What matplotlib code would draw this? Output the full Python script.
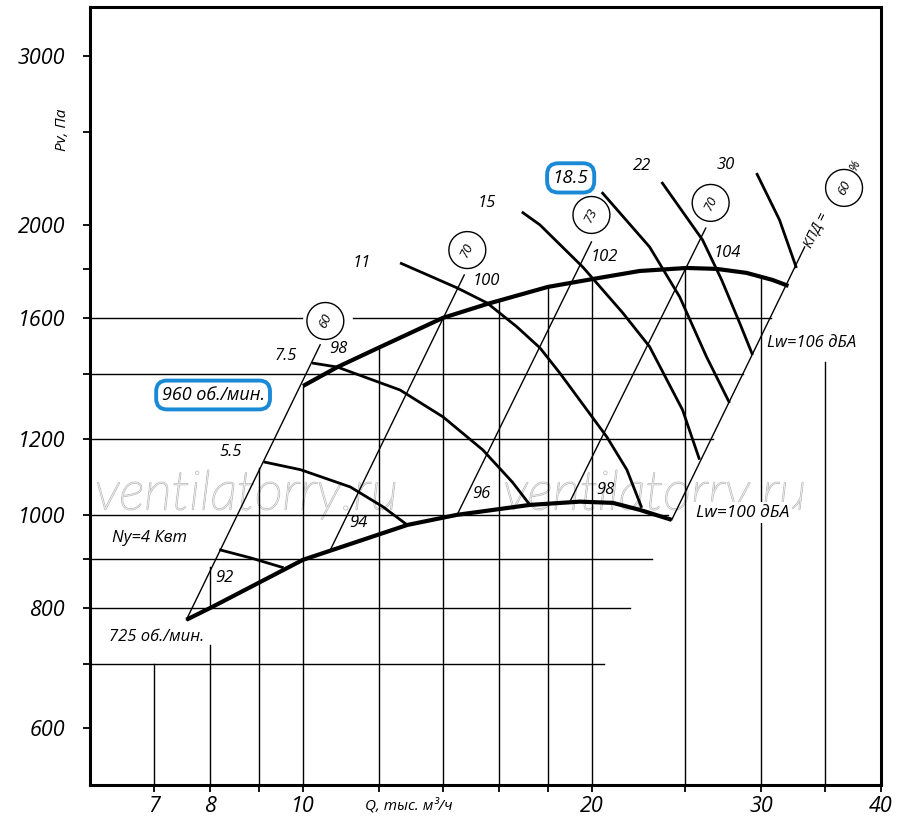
import matplotlib
matplotlib.use("Agg")
import matplotlib.pyplot as plt
import matplotlib.patheffects as pe
from matplotlib.ticker import NullLocator, FixedLocator, FixedFormatter

plt.rcParams['font.family'] = ['Open Sans', 'DejaVu Sans']
plt.rcParams['font.style'] = 'italic'

# ---- fan characteristics, Q in thousand m3/h, Pv in Pa ----
q_960 = [10.0, 10.86, 11.98, 13.99, 15.55, 17.99, 20.37, 22.42, 25.09, 26.96, 28.96, 30.83, 32.03]
p_960 = [1361, 1424, 1491, 1602, 1656, 1725, 1763, 1792, 1805, 1801, 1784, 1754, 1729]
q_725 = [7.56, 8.02, 10.0, 12.84, 14.47, 17.23, 19.42, 21.02, 22.42, 24.21]
p_725 = [778, 801, 898, 976, 1000, 1024, 1032, 1029, 1012, 988]

# ---- motor power curves ----
power_labels = ['Ny=4 Квт', '5.5', '7.5', '11', '15', '18.5', '22', '30']
power_q = [
    [8.18, 8.825, 9.546],
    [9.10, 9.94, 11.2, 12.12, 12.84],
    [10.22, 10.86, 12.62, 13.99, 15.39, 16.54, 17.23],
    [12.62, 14.47, 15.55, 16.70, 17.65, 18.51, 20.72, 21.74, 22.53],
    [16.90, 17.65, 19.56, 21.53, 22.96, 24.85, 25.88],
    [20.47, 22.96, 24.68, 26.32, 27.81],
    [23.63, 26.07, 27.29, 28.49, 29.39],
    [29.67, 31.35, 32.65],
]
power_p = [
    [920, 902, 881],
    [1135, 1114, 1069, 1019, 976],
    [1438, 1424, 1348, 1264, 1168, 1080, 1024],
    [1827, 1721, 1660, 1568, 1491, 1404, 1205, 1114, 1017],
    [2064, 2001, 1809, 1621, 1495, 1285, 1141],
    [2164, 1898, 1684, 1459, 1307],
    [2217, 1930, 1754, 1583, 1466],
    [2265, 2025, 1805],
]
power_label_q = [6.92, 8.41, 9.59, 11.52, 15.55, 19.0, 22.55, 27.54]
power_label_p = [946, 1163, 1463, 1827, 2109, 2239, 2303, 2309]

# ---- efficiency (system) lines ----
eff_labels = ['60', '70', '73', '70', '60']
eff_q = [[7.56, 10.42], [10.68, 14.72], [14.47, 19.97], [19.0, 26.27], [24.21, 33.3]]
eff_p = [[778, 1502], [920, 1775], [1000, 1921], [1036, 1986], [988, 1898]]
eff_circle_q = [10.55, 14.83, 19.97, 26.58, 36.6]
eff_circle_p = [1590, 1884, 2049, 2109, 2186]

# ---- noise levels ----
noise_top = ['98', '100', '102', '104']
noise_top_q = [10.88, 15.52, 20.6, 27.67]
noise_top_p = [1487, 1750, 1853, 1871]
noise_bot = ['92', '94', '96', '98']
noise_bot_q = [8.29, 11.41, 15.33, 20.65]
noise_bot_p = [860, 981, 1051, 1062]

# ---- grid segments ----
h_grid_p = [700, 800, 900, 1000, 1200, 1400, 1600, 1600]
h_grid_q0 = [6.0, 6.0, 6.0, 6.0, 6.0, 6.0, 6.0, 11.26]
h_grid_q1 = [20.6, 21.9, 23.1, 24.0, 26.7, 28.7, 9.98, 30.7]
v_grid_q = [7, 8, 8, 9, 10, 12, 14, 16, 18, 20, 25, 30, 35]
v_grid_p0 = [524, 524, 800, 524, 524, 524, 524, 524, 524, 524, 524, 524, 524]
v_grid_p1 = [700, 733, 883, 1119, 1361, 1494, 1602, 1664, 1721, 1763, 1805, 1763, 1442]

x_ticks = [7, 8, 9, 10, 12, 14, 16, 18, 20, 25, 30, 35, 40]
x_tick_labels = ['7', '8', '', '10', '', '', '', '', '20', '', '30', '', '40']
y_ticks = [600, 700, 800, 900, 1000, 1200, 1400, 1600, 1800, 2000, 2500, 3000]
y_tick_labels = ['600', '', '800', '', '1000', '1200', '', '1600', '', '2000', '', '3000']

BLUE = '#1a8ad6'
ROT = 63.5

fig = plt.figure(figsize=(9, 8.31), dpi=100)
ax = fig.add_axes([0.1, 0.0554, 0.879, 0.9362])
ax.set_xscale('log')
ax.set_yscale('log')
ax.set_xlim(6.0, 40)
ax.set_ylim(524, 3370)

# watermark (under everything)
for wq in [8.73, 23.24]:
    ax.text(wq, 1049, 'ventilatorry.ru', ha='center', va='center', fontsize=39,
            family='Lato', weight='light', color='white', zorder=0.5,
            path_effects=[pe.Stroke(linewidth=1.2, foreground='#c2c2c2'), pe.Normal()])

# grid
for p, q0, q1 in zip(h_grid_p, h_grid_q0, h_grid_q1):
    ax.plot([q0, q1], [p, p], color='black', lw=1.0, zorder=1)
for q, p0, p1 in zip(v_grid_q, v_grid_p0, v_grid_p1):
    ax.plot([q, q], [p0, p1], color='black', lw=1.0, zorder=1)

# efficiency lines
for lab, qq, pp, cq, cp in zip(eff_labels, eff_q, eff_p, eff_circle_q, eff_circle_p):
    ax.plot(qq, pp, color='black', lw=1.0, zorder=2)
    ax.text(cq, cp, lab, rotation=ROT, ha='center', va='center', fontsize=9.5,
            rotation_mode='anchor', zorder=6,
            bbox=dict(boxstyle='circle,pad=0.85', fc='white', ec='black', lw=1.0))

# power curves
for qq, pp in zip(power_q, power_p):
    ax.plot(qq, pp, color='black', lw=2.0, zorder=3, solid_capstyle='butt',
            solid_joinstyle='round')
for lab, lq, lp in zip(power_labels, power_label_q, power_label_p):
    if lab == '18.5':
        ax.text(lq, lp, lab, ha='center', va='center', fontsize=13.5, zorder=6,
                bbox=dict(boxstyle='round,pad=0.3,rounding_size=0.6', fc='white', ec=BLUE, lw=2.8))
    else:
        ax.text(lq, lp, lab, ha='center', va='center', fontsize=12, zorder=6)

# fan curves
ax.plot(q_960, p_960, color='black', lw=3.0, zorder=4, solid_capstyle='butt', solid_joinstyle='round')
ax.plot(q_725, p_725, color='black', lw=3.0, zorder=4, solid_capstyle='butt', solid_joinstyle='round')

# noise labels
for lab, lq, lp in zip(noise_top, noise_top_q, noise_top_p):
    ax.text(lq, lp, lab, ha='center', va='center', fontsize=12, zorder=6)
for lab, lq, lp in zip(noise_bot, noise_bot_q, noise_bot_p):
    ax.text(lq, lp, lab, ha='center', va='center', fontsize=12, zorder=6)
ax.text(33.9, 1509, 'Lw=106 дБА', ha='center', va='center', fontsize=12, zorder=6)
ax.text(28.68, 1005, 'Lw=100 дБА', ha='center', va='center', fontsize=12.5, zorder=6,
        bbox=dict(boxstyle='square,pad=0.15', fc='white', ec='none'))

# speed labels
ax.text(8.06, 1332, '960 об./мин.', ha='center', va='center', fontsize=13, zorder=6,
        bbox=dict(boxstyle='round,pad=0.3,rounding_size=0.6', fc='white', ec=BLUE, lw=2.8))
ax.text(7.04, 747, '725 об./мин.', ha='center', va='center', fontsize=12, zorder=6)

# efficiency caption
ax.text(34.3, 1977, 'КПД =', rotation=ROT, ha='center', va='center', fontsize=10, zorder=6)
ax.text(37.6, 2309, '%', rotation=ROT, ha='center', va='center', fontsize=9, zorder=6)

# axis captions
ax.text(-0.035, 2510, 'Pv, Па', rotation=90, ha='center', va='center', fontsize=11,
        transform=ax.get_yaxis_transform())
ax.text(12.9, -0.027, 'Q, тыс. м³/ч', ha='center', va='center', fontsize=11,
        transform=ax.get_xaxis_transform())

# axes styling
ax.xaxis.set_major_locator(FixedLocator(x_ticks))
ax.xaxis.set_major_formatter(FixedFormatter(x_tick_labels))
ax.xaxis.set_minor_locator(NullLocator())
ax.yaxis.set_major_locator(FixedLocator(y_ticks))
ax.yaxis.set_major_formatter(FixedFormatter(y_tick_labels))
ax.yaxis.set_minor_locator(NullLocator())
ax.tick_params(axis='both', direction='out', length=5, width=1.3, labelsize=15.5)
ax.tick_params(axis='y', pad=13)
ax.tick_params(axis='x', pad=3)
for s in ax.spines.values():
    s.set_linewidth(2.2)

fig.savefig('out.png', dpi=100)
